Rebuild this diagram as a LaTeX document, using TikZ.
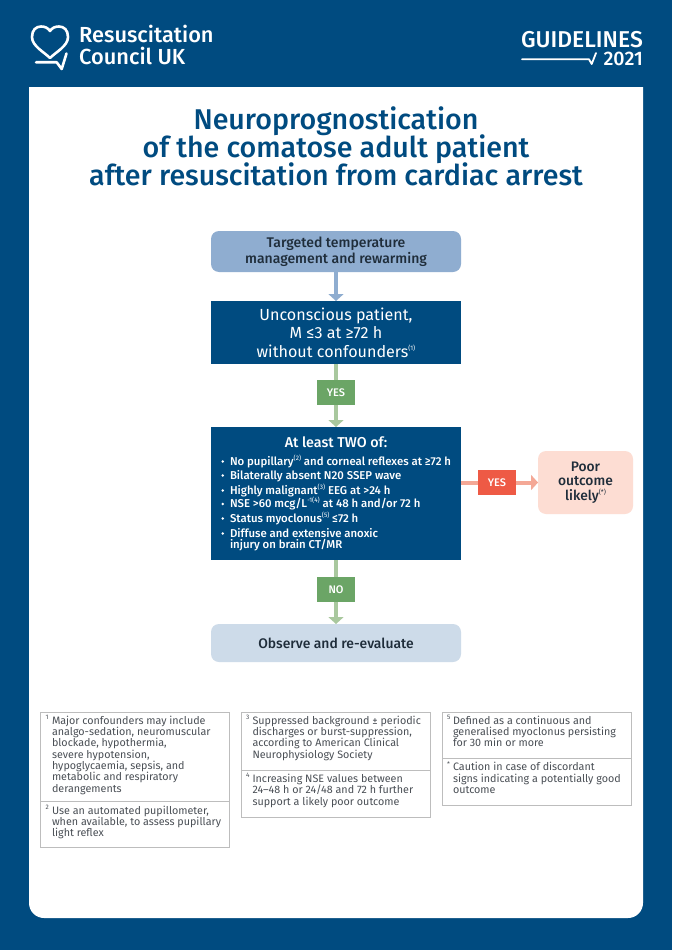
\documentclass[tikz,border=0pt]{standalone}
\usepackage{fontspec}
\setmainfont{Fira Sans}[BoldFont={Fira Sans Medium}]
\usetikzlibrary{arrows.meta}
\definecolor{navy}{HTML}{004B80}
\definecolor{steel}{HTML}{8FADD0}
\definecolor{paleblue}{HTML}{CDDBE9}
\definecolor{grn}{HTML}{6BA566}
\definecolor{grnl}{HTML}{A9C89E}
\definecolor{redb}{HTML}{EE5A45}
\definecolor{redl}{HTML}{F4A896}
\definecolor{pink}{HTML}{FDDDD3}
\definecolor{ink}{HTML}{1F2D3A}
\definecolor{foot}{HTML}{4A4F55}
\definecolor{rulec}{HTML}{BDBDBD}
\newcommand{\fsz}[2]{\fontsize{#1}{#2}\selectfont\lineskiplimit=-100pt\lineskip=0pt}
\newcommand{\sps}[1]{\raisebox{0.42em}{\fontsize{6.5}{7}\selectfont\mdseries #1}}
\tikzset{
 x=1pt,y=-1pt,
 flow/.style={minimum width=250,inner sep=0,outer sep=0,align=center},
 tag/.style={minimum width=38,minimum height=25,inner sep=0,outer sep=0,text=white,font=\fsz{11}{12}\bfseries},
 conn/.style={line width=4,-{Triangle[length=7,width=15]}},
 conp/.style={line width=4},
 item/.style={anchor=base west,inner sep=0,outer sep=0,text=white,font=\fsz{11.4}{12}\bfseries},
 dotb/.style={circle,fill=white,minimum size=2.8,inner sep=0},
 fbox/.style={draw=rulec,line width=0.8,fill=white},
 ftext/.style={anchor=north west,inner sep=0,outer sep=0,align=left,text=foot,font=\fsz{10.75}{11.3}},
 fnum/.style={anchor=north west,inner sep=0,outer sep=0,text=foot,font=\fsz{6.5}{7}},
}
\begin{document}
\begin{tikzpicture}
\useasboundingbox (0,0) rectangle (672,950);
\fill[navy] (0,0) rectangle (672,950);
\fill[white] (29,87) -- (643,87) [rounded corners=15] -- (643,918) -- (29,918) [sharp corners] -- (29,87) -- cycle;
% logo
\draw[white,line width=2.6,line join=round] (50,58) .. controls (44,52) and (32,46) .. (32,37) .. controls (32,30) and (36,26.5) .. (41,26.5) .. controls (45,26.5) and (48,28) .. (50,31) .. controls (52,28) and (55,26.5) .. (59,26.5) .. controls (64,26.5) and (68,30) .. (68,37) .. controls (68,46) and (56,52) .. (50,58) -- cycle;
\draw[white,line width=2.6,line join=round,line cap=round] (36,62.3) -- (56.7,62.3) -- (61.7,69) -- (66.5,53.5);
\node[anchor=base west,inner sep=0,text=white,font=\fsz{21.8}{22}\bfseries] (brand1) at (79,42.8) {Resuscitation};
\node[anchor=base west,inner sep=0,text=white,font=\fsz{21.8}{22}\bfseries] (brand2) at (79,65) {Council UK};
\node[anchor=base east,inner sep=0,text=white,font=\fsz{22.9}{24}\bfseries] (guide) at (643,47.2) {GUIDELINES};
\node[anchor=base east,inner sep=0,text=white,font=\fsz{19.6}{22}\bfseries] (year) at (643,66) {2021};
\draw[white,line width=1.8,line join=round,line cap=round] (522,59.3) -- (589,59.3) -- (591.7,64) -- (596,53);
% title
\node[align=center,inner sep=0,text=navy,font=\fsz{28.6}{28}\bfseries] (title) at (336,146) {Neuroprognostication\\of the comatose adult patient\\after resuscitation from cardiac arrest};
% flow
\node[flow,fill=steel,rounded corners=8,minimum height=41,text=ink,font=\fsz{14}{15.5}\bfseries] (a) at (336,251.5) {Targeted temperature\\management and rewarming};
\node[flow,fill=navy,minimum height=63,text=white,font=\fsz{16.1}{18.5}] (b) at (336,332.5) {Unconscious patient,\\M ≤3 at ≥72 h\\without confounders\sps{(1)}};
\node[tag,fill=grn] (y1) at (336,392.5) {YES};
\node[flow,fill=navy,minimum height=133] (c) at (336,493.5) {};
\node[tag,fill=grn] (n1) at (336,589.5) {NO};
\node[flow,fill=paleblue,rounded corners=8,minimum height=38,text=ink,font=\fsz{13.9}{15}\bfseries] (d) at (336,643) {Observe and re-evaluate};
\node[tag,fill=redb] (y2) at (497,482.5) {YES};
\node[fill=pink,rounded corners=8,minimum width=95,minimum height=63,inner sep=0,outer sep=0,align=center,text=ink,font=\fsz{13.8}{14.5}\bfseries] (e) at (585.5,482.5) {Poor\\outcome\\likely\sps{(*)}};
% connectors
\draw[conn,steel] (a) -- (b);
\draw[conp,grnl] (b) -- (y1);
\draw[conn,grnl] (y1) -- (c);
\draw[conp,grnl] (c) -- (n1);
\draw[conn,grnl] (n1) -- (d);
\draw[conp,redl] (c.east |- y2) -- (y2);
\draw[conn,redl] (y2) -- (e);
% box c text
\node[inner sep=0,text=white,font=\fsz{14.3}{15}\bfseries] (chead) at (336,442) {At least TWO of:};
\foreach \n/\yy in {1/465,2/479,3/494,4/507.5,5/522,6/537}{
  \node[dotb] (dot\n) at (222.7,\yy-3.5) {};
}
\node[item] (i1) at (230,465) {No pupillary\sps{(2)} and corneal reflexes at ≥72 h};
\node[item] (i2) at (230,479) {Bilaterally absent N20 SSEP wave};
\node[item] (i3) at (230,494) {Highly malignant\sps{(3)} EEG at >24 h};
\node[item] (i4) at (230,507.5) {NSE >60 mcg/L\sps{-1(4)} at 48 h and/or 72 h};
\node[item] (i5) at (230,522) {Status myoclonus\sps{(5)} ≤72 h};
\node[item] (i6) at (230,537) {Diffuse and extensive anoxic};
\node[item] (i7) at (230,548.5) {injury on brain CT/MR};
% footnote boxes
\draw[fbox] (40.5,712.5) rectangle (229.5,847.5);
\draw[rulec,line width=0.8] (40.5,801.5) -- (229.5,801.5);
\draw[fbox] (241.5,712.5) rectangle (430.5,817.5);
\draw[rulec,line width=0.8] (241.5,770.5) -- (430.5,770.5);
\draw[fbox] (442.5,712.5) rectangle (631,805.5);
\draw[rulec,line width=0.8] (442.5,758.5) -- (631,758.5);
\node[fnum] (f1n) at (45.5,715) {1};
\node[ftext] (f1) at (52,716) {Major confounders may include\\analgo-sedation, neuromuscular\\blockade, hypothermia,\\severe hypotension,\\hypoglycaemia, sepsis, and\\metabolic and respiratory\\derangements};
\node[fnum] (f2n) at (45.5,805) {2};
\node[ftext] (f2) at (52,806) {Use an automated pupillometer,\\when available, to assess pupillary\\light reflex};
\node[fnum] (f3n) at (246,715) {3};
\node[ftext] (f3) at (252.5,716) {Suppressed background ± periodic\\discharges or burst-suppression,\\according to American Clinical\\Neurophysiology Society};
\node[fnum] (f4n) at (246,773.5) {4};
\node[ftext] (f4) at (252.5,774.2) {Increasing NSE values between\\24–48 h or 24/48 and 72 h further\\support a likely poor outcome};
\node[fnum] (f5n) at (447,715) {5};
\node[ftext] (f5) at (453,716) {Defined as a continuous and\\generalised myoclonus persisting\\for 30 min or more};
\node[fnum] (f6n) at (447,762) {*};
\node[ftext] (f6) at (453,762.5) {Caution in case of discordant\\signs indicating a potentially good\\outcome};
\end{tikzpicture}
\end{document}
